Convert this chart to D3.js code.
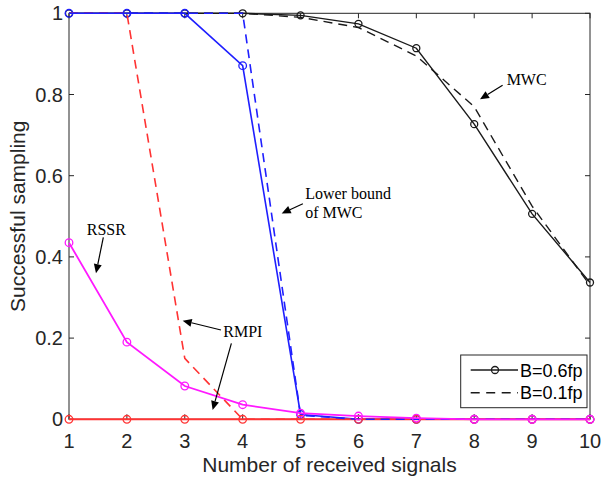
<!DOCTYPE html>
<html>
<head>
<meta charset="utf-8">
<script src="https://cdn.jsdelivr.net/npm/d3@7"></script>
<style>
  body { margin: 0; background: #fff; }
  .tick-label { font-family: "Liberation Sans", Arial, sans-serif; font-size: 20px; fill: #262626; }
  .axis-title { font-family: "Liberation Sans", Arial, sans-serif; font-size: 21px; fill: #262626; }
  .note { font-family: "Liberation Serif", "Times New Roman", serif; font-size: 16px; fill: #000; }
  .legend-text { font-family: "Liberation Sans", Arial, sans-serif; font-size: 18px; fill: #000; }
</style>
</head>
<body>
<div id="chart"></div>
<script>
// data
const signals = [1, 2, 3, 4, 5, 6, 7, 8, 9, 10];
const mwc_06 = [1, 1, 1, 1, 0.995, 0.974, 0.914, 0.727, 0.506, 0.337];
const mwc_01 = [1, 1, 1, 1, 0.99, 0.965, 0.895, 0.77, 0.525, 0.33];
const lower_06 = [1, 1, 1, 0.871, 0.012, 0, 0, 0, 0, 0];
const lower_01 = [1, 1, 1, 1, 0.01, 0, 0, 0, 0, 0];
const rmpi_06 = [0, 0, 0, 0, 0, 0, 0, 0, 0, 0];
const rmpi_01 = [1, 1, 0.15, 0, 0, 0, 0, 0, 0, 0];
const rssr = [0.435, 0.19, 0.082, 0.036, 0.015, 0.008, 0.003, 0, 0, 0];

const yTicks = [0, 0.2, 0.4, 0.6, 0.8, 1];
const yTickText = ["0", "0.2", "0.4", "0.6", "0.8", "1"];
const legendLabels = ["B=0.6fp", "B=0.1fp"];

// annotations, in data units
const notes = [
  { lines: ["MWC"], x: 8.56, y: 0.823 },
  { lines: ["Lower bound", "of MWC"], x: 5.08, y: 0.543 },
  { lines: ["RSSR"], x: 1.306, y: 0.454 },
  { lines: ["RMPI"], x: 3.665, y: 0.203 }
];
const arrows = [
  [8.49, 0.823, 8.10, 0.788],
  [5.04, 0.531, 4.674, 0.507],
  [1.593, 0.448, 1.466, 0.36],
  [3.625, 0.22, 2.964, 0.243],
  [3.805, 0.187, 3.481, 0.023]
];

const W = 601, H = 482;
const pLeft = 69, pRight = 590, pTop = 13.3, pBottom = 419.3;

const svg = d3.select("#chart").append("svg").attr("width", W).attr("height", H);

const x = d3.scaleLinear().domain([1, 10]).range([pLeft, pRight]);
const y = d3.scaleLinear().domain([0, 1]).range([pBottom, pTop]);

const axisColor = "#262626";

// box
svg.append("rect")
  .attr("x", pLeft).attr("y", pTop)
  .attr("width", pRight - pLeft).attr("height", pBottom - pTop)
  .attr("fill", "none").attr("stroke", axisColor).attr("stroke-width", 1);

// ticks, inward on all sides
const tickLen = 5;
const ticks = svg.append("g").attr("stroke", axisColor).attr("stroke-width", 1);
signals.forEach(v => {
  ticks.append("line").attr("x1", x(v)).attr("x2", x(v)).attr("y1", pBottom).attr("y2", pBottom - tickLen);
  ticks.append("line").attr("x1", x(v)).attr("x2", x(v)).attr("y1", pTop).attr("y2", pTop + tickLen);
});
yTicks.forEach(v => {
  ticks.append("line").attr("x1", pLeft).attr("x2", pLeft + tickLen).attr("y1", y(v)).attr("y2", y(v));
  ticks.append("line").attr("x1", pRight).attr("x2", pRight - tickLen).attr("y1", y(v)).attr("y2", y(v));
});

svg.selectAll(".xt").data(signals).enter().append("text")
  .attr("class", "tick-label")
  .attr("x", d => x(d)).attr("y", pBottom + 29)
  .attr("text-anchor", "middle")
  .text(d => d);

svg.selectAll(".yt").data(yTicks).enter().append("text")
  .attr("class", "tick-label")
  .attr("x", pLeft - 6).attr("y", d => y(d) + 7)
  .attr("text-anchor", "end")
  .text((d, i) => yTickText[i]);

svg.append("text").attr("class", "axis-title")
  .attr("x", (pLeft + pRight) / 2).attr("y", 472)
  .attr("text-anchor", "middle")
  .text("Number of received signals");

svg.append("text").attr("class", "axis-title")
  .attr("transform", `translate(25, ${(pTop + pBottom) / 2}) rotate(-90)`)
  .attr("text-anchor", "middle")
  .text("Successful sampling");

// series
const line = d3.line().x((d, i) => x(signals[i])).y(d => y(d));
const dash = "9,6";

function drawSeries(values, color, width, dashed, markers, r) {
  svg.append("path")
    .attr("d", line(values))
    .attr("fill", "none")
    .attr("stroke", color)
    .attr("stroke-width", width)
    .attr("stroke-dasharray", dashed ? dash : null);
  if (markers) {
    svg.append("g").selectAll("circle").data(values).enter().append("circle")
      .attr("cx", (d, i) => x(signals[i]))
      .attr("cy", d => y(d))
      .attr("r", r)
      .attr("fill", "none")
      .attr("stroke", color)
      .attr("stroke-width", 1.3);
  }
}

drawSeries(mwc_06, "#1a1a1a", 1.4, false, true, 3.5);
drawSeries(mwc_01, "#1a1a1a", 1.4, true, false);
drawSeries(lower_06, "#1f1fff", 1.6, false, true, 3.8);
drawSeries(rmpi_06, "#ff3333", 2, false, true, 3.8);
drawSeries(rmpi_01, "#ff3333", 1.6, true, false);
drawSeries(lower_01, "#1f1fff", 1.6, true, false);
drawSeries(rssr, "#ff19ff", 1.8, false, true, 3.8);

// annotations
notes.forEach(n => {
  n.lines.forEach((t, i) => {
    svg.append("text").attr("class", "note")
      .attr("x", x(n.x)).attr("y", y(n.y) + i * 19)
      .text(t);
  });
});

arrows.forEach(a => {
  const x1 = x(a[0]), y1 = y(a[1]), x2 = x(a[2]), y2 = y(a[3]);
  const ang = Math.atan2(y2 - y1, x2 - x1);
  const len = 9, half = 4;
  const bx = x2 - len * Math.cos(ang), by = y2 - len * Math.sin(ang);
  svg.append("line")
    .attr("x1", x1).attr("y1", y1).attr("x2", bx).attr("y2", by)
    .attr("stroke", "#000").attr("stroke-width", 1.2);
  const pts = [
    [x2, y2],
    [bx + half * Math.sin(ang), by - half * Math.cos(ang)],
    [bx - half * Math.sin(ang), by + half * Math.cos(ang)]
  ];
  svg.append("polygon")
    .attr("points", pts.map(p => p.join(",")).join(" "))
    .attr("fill", "#000");
});

// legend
const lg = svg.append("g");
lg.append("rect")
  .attr("x", 460.7).attr("y", 355)
  .attr("width", 126.3).attr("height", 52.7)
  .attr("fill", "#fff").attr("stroke", axisColor).attr("stroke-width", 1);
[370, 392.7].forEach((ly, i) => {
  lg.append("line")
    .attr("x1", 470.7).attr("x2", 518).attr("y1", ly).attr("y2", ly)
    .attr("stroke", "#1a1a1a").attr("stroke-width", 1.4)
    .attr("stroke-dasharray", i === 1 ? "9,6.5" : null);
  if (i === 0) {
    lg.append("circle").attr("cx", 495).attr("cy", ly).attr("r", 3.5)
      .attr("fill", "none").attr("stroke", "#1a1a1a").attr("stroke-width", 1.3);
  }
  lg.append("text").attr("class", "legend-text")
    .attr("x", 520).attr("y", ly + 6.5)
    .text(legendLabels[i]);
});
</script>
</body>
</html>
